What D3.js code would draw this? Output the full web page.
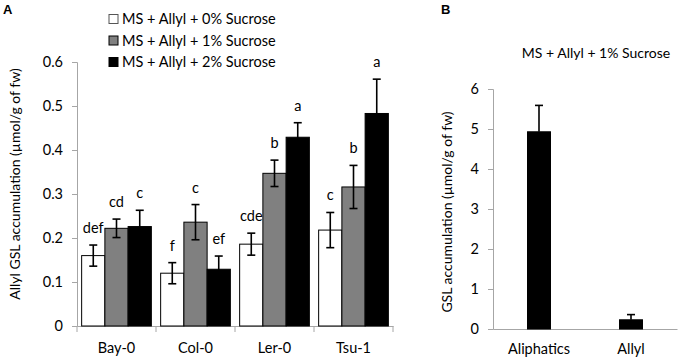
<!DOCTYPE html>
<html><head><meta charset="utf-8">
<script src="https://cdn.jsdelivr.net/npm/d3@7"></script>
<style>
body{margin:0;background:#fff;}
text{font-family:Lato,"Open Sans",sans-serif;fill:#000;}
</style></head>
<body><svg id="c" width="680" height="360"></svg>
<script>
// Panel A data
const accessions = ["Bay-0","Col-0","Ler-0","Tsu-1"];
const treatments = ["MS + Allyl + 0% Sucrose","MS + Allyl + 1% Sucrose","MS + Allyl + 2% Sucrose"];
const sucrose0 = [0.160,0.120,0.186,0.218];
const sucrose1 = [0.222,0.236,0.347,0.316];
const sucrose2 = [0.226,0.129,0.429,0.483];
const err0 = [0.024,0.024,0.025,0.040];
const err1 = [0.021,0.040,0.030,0.049];
const err2 = [0.037,0.030,0.033,0.078];
const letters0 = ["def","f","cde","c"];
const letters1 = ["cd","c","b","b"];
const letters2 = ["c","ef","a","a"];
const yTicksA = [0,0.1,0.2,0.3,0.4,0.5,0.6];
// Panel B data
const groupsB = ["Aliphatics","Allyl"];
const valuesB = [4.93,0.23];
const errB = [0.66,0.13];
const yTicksB = [0,1,2,3,4,5,6];

const fills = ["#ffffff","#808080","#000000"];
const axisColor = "#a6a6a6";
const svg = d3.select("#c");

// ---------- Panel A ----------
const A = {x0:77, x1:393, y0:326, y1:62};
const xA = d3.scaleBand().domain(accessions).range([A.x0,A.x1]).paddingInner(0).paddingOuter(0);
const xSub = d3.scaleBand().domain([0,1,2]).range([0,xA.bandwidth()]).paddingInner(0).paddingOuter(0.2);
const yA = d3.scaleLinear().domain([0,0.6]).range([A.y0,A.y1]);
const gA = svg.append("g");

const yAxisA = d3.axisLeft(yA).tickValues(yTicksA).tickSize(5).tickPadding(9)
  .tickFormat(d => d===0 ? "0" : d.toFixed(1));
const ya = gA.append("g").attr("transform",`translate(${A.x0},0)`).call(yAxisA);
const xAxisA = d3.axisBottom(xA).tickSize(0).tickPadding(17);
const xa = gA.append("g").attr("transform",`translate(0,${A.y0})`).call(xAxisA);
[ya,xa].forEach(a=>{
  a.select(".domain").attr("stroke",axisColor);
  a.selectAll(".tick line").attr("stroke",axisColor);
  a.selectAll("text").style("font-size","14.5px").attr("fill","#000");
});
// x tick marks at band boundaries
const bounds = accessions.map(a=>xA(a)).concat([A.x1]);
gA.selectAll(".xb").data(bounds).join("line")
  .attr("x1",d=>d).attr("x2",d=>d).attr("y1",A.y0).attr("y2",A.y0+6)
  .attr("stroke",axisColor);

const seriesA = [sucrose0,sucrose1,sucrose2];
const errsA = [err0,err1,err2];
const lettersA = [letters0,letters1,letters2];
seriesA.forEach((vals,s)=>{
  const g = gA.append("g");
  accessions.forEach((acc,i)=>{
    const x = xA(acc)+xSub(s), w = xSub.bandwidth(), cx = x+w/2;
    g.append("rect").attr("x",x).attr("y",yA(vals[i])).attr("width",w)
      .attr("height",A.y0-yA(vals[i])).attr("fill",fills[s]).attr("stroke","#000").attr("stroke-width",1);
    const top = yA(vals[i]+errsA[s][i]), bot = yA(vals[i]-errsA[s][i]);
    g.append("line").attr("x1",cx).attr("x2",cx).attr("y1",top).attr("y2",bot).attr("stroke","#000").attr("stroke-width",1.6);
    [top,bot].forEach(yy=>g.append("line").attr("x1",cx-4).attr("x2",cx+4).attr("y1",yy).attr("y2",yy).attr("stroke","#000").attr("stroke-width",1.6));
    g.append("text").attr("x",cx).attr("y",top-12).attr("text-anchor","middle")
      .style("font-size","14.5px").text(lettersA[s][i]);
  });
});

// y label A
svg.append("text").attr("transform","translate(20,184) rotate(-90)").attr("text-anchor","middle")
  .style("font-size","14px").text("Allyl GSL accumulation  (µmol/g of fw)");
// panel letter A
svg.append("text").attr("x",3).attr("y",14).style("font-size","13px").style("font-weight","bold")
  .style("font-family","Liberation Sans, Arial, sans-serif").text("A");

// legend A
const leg = svg.append("g");
treatments.forEach((t,i)=>{
  const yy = 19 + i*21.5;
  leg.append("rect").attr("x",109).attr("y",yy-4.5).attr("width",9).attr("height",9)
    .attr("fill",fills[i]).attr("stroke",i===0?"#555":"#000").attr("stroke-width",1);
  leg.append("text").attr("x",122).attr("y",yy+5).style("font-size","14.5px").text(t);
});

// ---------- Panel B ----------
const B = {x0:493, x1:677, y0:329, y1:89};
const xB = d3.scaleBand().domain(groupsB).range([B.x0,B.x1]).paddingInner(0.75).paddingOuter(0.375);
const yB = d3.scaleLinear().domain([0,6]).range([B.y0,B.y1]);
const gB = svg.append("g");
const yb = gB.append("g").attr("transform",`translate(${B.x0},0)`)
  .call(d3.axisLeft(yB).tickValues(yTicksB).tickSize(5).tickPadding(9).tickFormat(d3.format("d")));
const xb = gB.append("g").attr("transform",`translate(0,${B.y0})`)
  .call(d3.axisBottom(xB).tickSize(0).tickPadding(15));
[yb,xb].forEach(a=>{
  a.select(".domain").attr("stroke",axisColor);
  a.selectAll(".tick line").attr("stroke",axisColor);
  a.selectAll("text").style("font-size","14.5px").attr("fill","#000");
});
groupsB.forEach((gname,i)=>{
  const x = xB(gname), w = xB.bandwidth(), cx = x+w/2;
  gB.append("rect").attr("x",x).attr("y",yB(valuesB[i])).attr("width",w)
    .attr("height",B.y0-yB(valuesB[i])).attr("fill","#000").attr("stroke","#000");
  const top = yB(valuesB[i]+errB[i]);
  gB.append("line").attr("x1",cx).attr("x2",cx).attr("y1",top).attr("y2",yB(valuesB[i])).attr("stroke","#000").attr("stroke-width",1.6);
  gB.append("line").attr("x1",cx-4).attr("x2",cx+4).attr("y1",top).attr("y2",top).attr("stroke","#000").attr("stroke-width",1.6);
});
svg.append("text").attr("transform","translate(452,212) rotate(-90)").attr("text-anchor","middle")
  .style("font-size","14px").text("GSL accumulation  (µmol/g of fw)");
svg.append("text").attr("x",596).attr("y",58).attr("text-anchor","middle")
  .style("font-size","14px").text("MS + Allyl + 1% Sucrose");
svg.append("text").attr("x",441).attr("y",14).style("font-size","13px").style("font-weight","bold")
  .style("font-family","Liberation Sans, Arial, sans-serif").text("B");
</script></body></html>
